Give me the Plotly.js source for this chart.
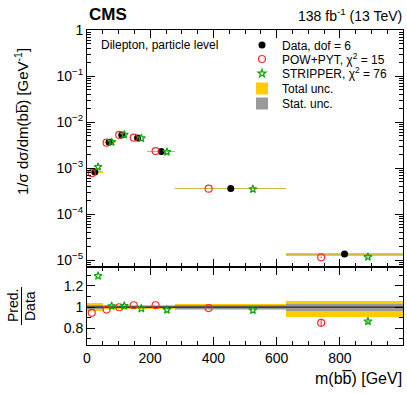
<!DOCTYPE html>
<html><head><meta charset="utf-8">
<script src="https://cdn.plot.ly/plotly-3.0.1.min.js"></script>
<style>html,body{margin:0;padding:0;background:#fff;}#c{width:407px;height:394px;}</style>
</head><body><div id="c"></div>
<script>
// ---- data ----
const binEdges = [0, 50, 90, 130, 190, 280, 630, 1000];
const dataVals = [8.2e-4, 3.65e-3, 5.25e-3, 4.5e-3, 2.3e-3, 3.6e-4, 1.35e-5];
const totUncUp = [0.035, 0.02, 0.02, 0.02, 0.02, 0.03, 0.06];
const totUncDn = [0.035, 0.02, 0.02, 0.02, 0.02, 0.03, 0.09];
const statUncUp = [0.02, 0.01, 0.01, 0.01, 0.01, 0.017, 0.028];
const statUncDn = [0.02, 0.01, 0.01, 0.01, 0.01, 0.017, 0.035];
const powVals = [7.75e-4, 3.56e-3, 5.24e-3, 4.58e-3, 2.34e-3, 3.56e-4, 1.15e-5];
const stripVals = [1.06e-3, 3.68e-3, 5.31e-3, 4.44e-3, 2.24e-3, 3.49e-4, 1.17e-5];
const powRatio = [0.945, 0.976, 0.998, 1.017, 1.017, 0.99, 0.85];
const stripRatio = [1.295, 1.008, 1.011, 0.986, 0.973, 0.97, 0.865];
const powErrRel = [0, 0, 0, 0, 0, 0, 0.04];
const stripErrRel = [0, 0, 0, 0, 0, 0, 0.03];
const xTickVals = [0, 200, 400, 600, 800];
const logTickVals = [1e-5, 1e-4, 1e-3, 1e-2, 1e-1, 1];
const logTickText = ['10<sup>−5</sup>', '10<sup>−4</sup>', '10<sup>−3</sup>', '10<sup>−2</sup>', '10<sup>−1</sup>', '1'];
const ratioTickVals = [0.8, 1, 1.2];
const ratioTickText = ['0.8', '1', '1.2'];
const legendNames = ['Data, dof = 6', 'POW+PYT, χ<sup>2</sup> = 15', 'STRIPPER, χ<sup>2</sup> = 76', 'Total unc.', 'Stat. unc.'];

const FONT = 'Liberation Sans, Arial, Helvetica, sans-serif';
const YELLOW = '#ffcc00', GRAY = '#999999', RED = '#ff2a2a', GREEN = '#11a511';

const centers = binEdges.slice(0, -1).map((e, i) => (e + binEdges[i + 1]) / 2);
const widths = binEdges.slice(0, -1).map((e, i) => binEdges[i + 1] - e);
const xPow = centers.map((c, i) => c - 0.2 * widths[i]);
const xStrip = centers.map((c, i) => c + 0.2 * widths[i]);

function band(lo, hi, color, xa, ya, name, show, leg, opacity) {
  return {
    type: 'bar', x: centers, width: widths, base: lo, y: hi.map((h, i) => h - lo[i]),
    xaxis: xa, yaxis: ya, marker: {color: color, line: {width: 0}}, hoverinfo: 'skip', opacity: opacity,
    name: name, showlegend: show, legend: leg
  };
}
const totLo = dataVals.map((v, i) => v * (1 - totUncDn[i]));
const totHi = dataVals.map((v, i) => v * (1 + totUncUp[i]));
const statLo = dataVals.map((v, i) => v * (1 - statUncDn[i]));
const statHi = dataVals.map((v, i) => v * (1 + statUncUp[i]));

const STAR = 6;
const traces = [
  band(totLo, totHi, YELLOW, 'x', 'y', legendNames[3], false, 'legend4', 1),
  band(statLo, statHi, GRAY, 'x', 'y', legendNames[4], false, 'legend5', 0.45),
  band(totUncDn.map(d => 1 - d), totUncUp.map(u => 1 + u), YELLOW, 'x2', 'y2', legendNames[3], true, 'legend4', 1),
  band(statUncDn.map(d => 1 - d), statUncUp.map(u => 1 + u), GRAY, 'x2', 'y2', legendNames[4], true, 'legend5', 1),
  {x: [binEdges[0], binEdges[binEdges.length - 1]], y: [1, 1], xaxis: 'x2', yaxis: 'y2',
    mode: 'lines', line: {color: '#222', width: 1.3}, showlegend: false, hoverinfo: 'skip'},
  {x: centers, y: dataVals, xaxis: 'x', yaxis: 'y', mode: 'markers', name: legendNames[0], legend: 'legend',
    marker: {symbol: 'circle', size: 7, color: 'black'}},
  {x: xPow, y: powVals, xaxis: 'x', yaxis: 'y', mode: 'markers', name: legendNames[1], legend: 'legend2',
    marker: {symbol: 'circle-open', size: 7, color: RED, line: {width: 1.2}},
    error_y: {type: 'data', array: powVals.map((v, i) => v * powErrRel[i]), color: RED, thickness: 1, width: 0}},
  {x: xStrip, y: stripVals, xaxis: 'x', yaxis: 'y', mode: 'markers', name: legendNames[2], legend: 'legend3',
    marker: {symbol: 'star-open', size: STAR, color: GREEN, line: {width: 1.2}},
    error_y: {type: 'data', array: stripVals.map((v, i) => v * stripErrRel[i]), color: GREEN, thickness: 1, width: 0}},
  {x: xPow, y: powRatio, xaxis: 'x2', yaxis: 'y2', mode: 'markers', showlegend: false,
    marker: {symbol: 'circle-open', size: 7, color: RED, line: {width: 1.2}},
    error_y: {type: 'data', array: powErrRel, color: RED, thickness: 1, width: 0}},
  {x: xStrip, y: stripRatio, xaxis: 'x2', yaxis: 'y2', mode: 'markers', showlegend: false,
    marker: {symbol: 'star-open', size: STAR, color: GREEN, line: {width: 1.2}},
    error_y: {type: 'data', array: stripErrRel, color: GREEN, thickness: 1, width: 0}}
];

const logMinor = [];
for (let k = -6; k <= 0; k++) for (let m = 2; m <= 9; m++) logMinor.push(m * Math.pow(10, k));

const L = 87, R = 403, T = 30, B = 345, W = 407, H = 394;
const split = (B - 267) / (B - T);
const px = x => (x - L) / (R - L);
const py = y => (B - y) / (B - T);

const axCommon = {
  showline: true, linecolor: 'black', linewidth: 1, mirror: 'ticks', ticks: 'inside',
  tickcolor: 'black', zeroline: false, showgrid: false,
  tickfont: {family: FONT, size: 14, color: 'black'}
};

function legendAt(yPix) {
  return {x: px(242), y: py(yPix), xanchor: 'left', yanchor: 'middle', bgcolor: 'rgba(0,0,0,0)',
    font: {family: FONT, size: 12, color: 'black'}, itemwidth: 30, borderwidth: 0};
}

const layout = {
  width: W, height: H, margin: {l: L, r: W - R, t: T, b: H - B},
  paper_bgcolor: 'white', plot_bgcolor: 'white', showlegend: true, barmode: 'overlay', bargap: 0,
  font: {family: FONT, color: 'black'},
  xaxis: Object.assign({}, axCommon, {domain: [0, 1], anchor: 'y', range: [0, 1000], showticklabels: false,
    tickmode: 'array', tickvals: xTickVals, ticklen: 8,
    minor: {ticks: 'inside', dtick: 50, tick0: 0, ticklen: 4, tickcolor: 'black'}}),
  yaxis: Object.assign({}, axCommon, {domain: [split, 1], anchor: 'x', type: 'log', range: [-5.15, 0],
    tickmode: 'array', tickvals: logTickVals, ticktext: logTickText, ticklen: 8,
    minor: {ticks: 'inside', tickmode: 'array', tickvals: logMinor, ticklen: 4, tickcolor: 'black'}}),
  xaxis2: Object.assign({}, axCommon, {domain: [0, 1], anchor: 'y2', range: [0, 1000], matches: 'x',
    tickmode: 'array', tickvals: xTickVals, ticklen: 8,
    minor: {ticks: 'inside', dtick: 50, tick0: 0, ticklen: 4, tickcolor: 'black'}}),
  yaxis2: Object.assign({}, axCommon, {domain: [0, split], anchor: 'x2', range: [0.64, 1.38],
    tickmode: 'array', tickvals: ratioTickVals, ticktext: ratioTickText, ticklen: 8,
    minor: {ticks: 'inside', dtick: 0.1, tick0: 0.6, ticklen: 4, tickcolor: 'black'}}),
  legend: legendAt(45),
  legend2: legendAt(59),
  legend3: legendAt(73.5),
  legend4: legendAt(88.5),
  legend5: legendAt(103.5),
  annotations: [
    {text: '<b>CMS</b>', xref: 'paper', yref: 'paper', x: px(87), y: py(15), xanchor: 'left', yanchor: 'middle',
      showarrow: false, font: {family: FONT, size: 17}},
    {text: '138 fb<sup>-1</sup> (13 TeV)', xref: 'paper', yref: 'paper', x: px(404), y: py(15), xanchor: 'right', yanchor: 'middle',
      showarrow: false, font: {family: FONT, size: 14}},
    {text: 'Dilepton, particle level', xref: 'paper', yref: 'paper', x: px(99), y: py(45), xanchor: 'left', yanchor: 'middle',
      showarrow: false, font: {family: FONT, size: 12}},
    {text: '1/σ dσ/dm(bb\u0305) [GeV<sup>-1</sup>]', xref: 'paper', yref: 'paper', x: px(22), y: py(122), xanchor: 'center', yanchor: 'middle',
      textangle: -90, showarrow: false, font: {family: FONT, size: 15}},
    {text: 'Pred.', xref: 'paper', yref: 'paper', x: px(13), y: py(306), xanchor: 'center', yanchor: 'middle',
      textangle: -90, showarrow: false, font: {family: FONT, size: 14}},
    {text: 'Data', xref: 'paper', yref: 'paper', x: px(30), y: py(306), xanchor: 'center', yanchor: 'middle',
      textangle: -90, showarrow: false, font: {family: FONT, size: 14}},
    {text: 'm(bb\u0305) [GeV]', xref: 'paper', yref: 'paper', x: px(404), y: py(378), xanchor: 'right', yanchor: 'middle',
      showarrow: false, font: {family: FONT, size: 16}}
  ],
  shapes: [
    {type: 'line', xref: 'paper', yref: 'paper', x0: px(21.5), x1: px(21.5), y0: py(287), y1: py(325),
      line: {color: 'black', width: 1}}
  ]
};

Plotly.newPlot('c', traces, layout, {staticPlot: true, displayModeBar: false});
</script></body></html>
